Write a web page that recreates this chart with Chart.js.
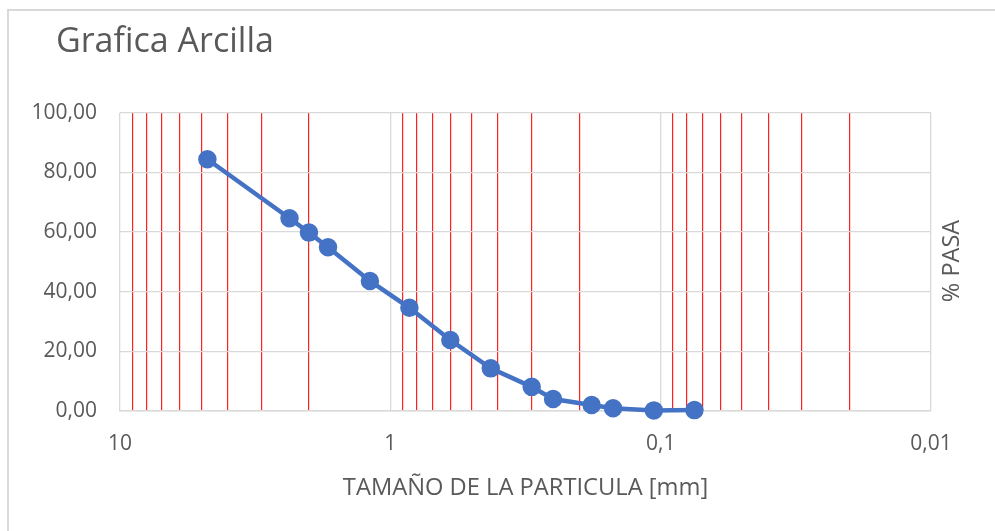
<!DOCTYPE html>
<html>
<head>
<meta charset="utf-8">
<script src="https://cdn.jsdelivr.net/npm/chart.js@4"></script>
<style>
  html, body { margin: 0; padding: 0; background: #fff; }
  #wrap { position: relative; width: 995px; height: 531px; overflow: hidden; }
  #frame { position: absolute; left: 7px; top: 9px; width: 1100px; height: 600px;
           border-top: 2px solid #d9d9d9; border-left: 2px solid #d9d9d9; pointer-events: none; }
  canvas { position: absolute; left: 0; top: 0; }
</style>
</head>
<body>
<div id="wrap">
  <canvas id="c" width="995" height="531"></canvas>
  <div id="frame"></div>
</div>
<script>
// ---- data ----
const chartTitle = 'Grafica Arcilla';
const xAxisTitle = 'TAMAÑO DE LA PARTICULA [mm]';
const yAxisTitle = '% PASA';
const particleSizes = [4.75, 2.36, 2.0, 1.70, 1.19, 0.85, 0.60, 0.425, 0.30, 0.25, 0.18, 0.15, 0.106, 0.075];
const percentPassing = [84.4, 64.6, 59.8, 54.9, 43.6, 34.6, 23.8, 14.3, 8.1, 4.0, 2.0, 0.9, 0.2, 0.3];
const majorTicks = [10, 1, 0.1, 0.01];
const majorTickLabels = ['10', '1', '0,1', '0,01'];
const minorTicks = [9, 8, 7, 6, 5, 4, 3, 2, 0.9, 0.8, 0.7, 0.6, 0.5, 0.4, 0.3, 0.2,
                    0.09, 0.08, 0.07, 0.06, 0.05, 0.04, 0.03, 0.02];
const yTicks = [0, 20, 40, 60, 80, 100];

const FONT = '"Open Sans", sans-serif';
const TEXT = '#595959';
const GRID = '#d9d9d9';

function isMajor(v) { return majorTicks.some(m => Math.abs(v - m) / m < 1e-6); }
function majorLabel(v) {
  const i = majorTicks.findIndex(m => Math.abs(v - m) / m < 1e-6);
  return i >= 0 ? majorTickLabels[i] : '';
}

const textPlugin = {
  id: 'extraText',
  afterDraw(chart) {
    const ctx = chart.ctx;
    ctx.save();
    ctx.fillStyle = TEXT;
    ctx.font = '34px ' + FONT;
    ctx.textAlign = 'left';
    ctx.textBaseline = 'alphabetic';
    ctx.fillText(chartTitle, 56, 51.5);
    ctx.translate(952, 261);
    ctx.rotate(-Math.PI / 2);
    ctx.font = '23.5px ' + FONT;
    ctx.textAlign = 'center';
    ctx.textBaseline = 'middle';
    ctx.fillText(yAxisTitle, 0, 0);
    ctx.restore();
  }
};

new Chart(document.getElementById('c'), {
  type: 'line',
  data: {
    datasets: [{
      data: particleSizes.map((s, i) => ({ x: s, y: percentPassing[i] })),
      borderColor: '#4472C4',
      backgroundColor: '#4472C4',
      borderWidth: 4.5,
      pointRadius: 7,
      pointHoverRadius: 7,
      pointBackgroundColor: '#4472C4',
      pointBorderColor: '#4472C4',
      tension: 0,
      fill: false,
      clip: false
    }]
  },
  options: {
    responsive: false,
    animation: false,
    devicePixelRatio: 1,
    layout: { padding: { left: 0, top: 112.7, right: 64, bottom: 0 } },
    plugins: { legend: { display: false }, title: { display: false }, tooltip: { enabled: false } },
    scales: {
      x: {
        type: 'logarithmic',
        reverse: true,
        min: 0.01,
        max: 10,
        afterBuildTicks(scale) {
          scale.ticks = majorTicks.concat(minorTicks).sort((a, b) => b - a).map(v => ({ value: v }));
        },
        afterFit(scale) { scale.height = 120; },
        grid: {
          color: ctx => (ctx.tick && isMajor(ctx.tick.value)) ? GRID : '#ff2020',
          lineWidth: ctx => (ctx.tick && isMajor(ctx.tick.value)) ? 1.3 : 1.2,
          drawTicks: false
        },
        border: { display: true, color: GRID, width: 1.5 },
        ticks: {
          autoSkip: false,
          maxRotation: 0,
          padding: 20,
          color: TEXT,
          font: { family: FONT, size: 21 },
          callback: (v) => majorLabel(v)
        },
        title: {
          display: true,
          text: xAxisTitle,
          color: TEXT,
          font: { family: FONT, size: 23.7 },
          padding: { top: 0, bottom: 29 }
        }
      },
      y: {
        min: 0,
        max: 100,
        afterBuildTicks(scale) { scale.ticks = yTicks.map(v => ({ value: v })); },
        afterFit(scale) { scale.width = 120; },
        grid: { color: GRID, lineWidth: 1.3, drawTicks: false },
        border: { display: false },
        ticks: {
          padding: 23,
          color: TEXT,
          font: { family: FONT, size: 21 },
          callback: (v) => v.toFixed(2).replace('.', ',')
        }
      }
    }
  },
  plugins: [textPlugin]
});
</script>
</body>
</html>
